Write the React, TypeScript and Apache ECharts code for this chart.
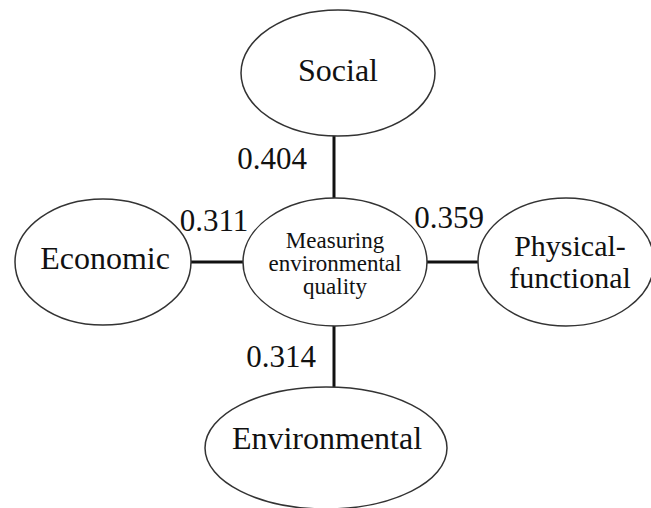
import React, { useEffect, useRef } from "react";
import * as echarts from "echarts";

// Data
const centerLabel = "Measuring\nenvironmental\nquality";
const dimensions = ["Social", "Economic", "Physical-\nfunctional", "Environmental"];
const weights = [0.404, 0.311, 0.359, 0.314];

// Layout (positions / sizes)
const centerNode = { cx: 335, cy: 262, rx: 92, ry: 64, fontSize: 23, lineHeight: 23 };
const outerNodes = [
  { cx: 338, cy: 73, rx: 97, ry: 63, fontSize: 32, lineHeight: 32, tx: 338, ty: 70 },
  { cx: 103, cy: 262, rx: 88, ry: 63, fontSize: 32, lineHeight: 32, tx: 105, ty: 258 },
  { cx: 566, cy: 262, rx: 88, ry: 64, fontSize: 30, lineHeight: 32, tx: 570, ty: 261 },
  { cx: 326, cy: 448, rx: 121, ry: 61, fontSize: 32, lineHeight: 32, tx: 327, ty: 438 },
];
const edges = [
  { x1: 334, y1: 262, x2: 334, y2: 73 },
  { x1: 335, y1: 262, x2: 103, y2: 262 },
  { x1: 335, y1: 262, x2: 566, y2: 262 },
  { x1: 334, y1: 262, x2: 334, y2: 448 },
];
const weightPos = [
  { x: 272, y: 158 },
  { x: 214, y: 220 },
  { x: 449, y: 217 },
  { x: 281, y: 356 },
];

const FONT = "'Liberation Serif', 'Times New Roman', 'DejaVu Serif', serif";

export default function App() {
  const ref = useRef<HTMLDivElement>(null);
  useEffect(() => {
    if (!ref.current) return;
    const chart = echarts.init(ref.current, null, { renderer: "svg" });
    const elements: any[] = [];
    edges.forEach((e) => {
      elements.push({
        type: "line",
        z: 1,
        shape: { x1: e.x1, y1: e.y1, x2: e.x2, y2: e.y2 },
        style: { stroke: "#111", lineWidth: 3 },
      });
    });
    const allNodes = [
      { ...centerNode, tx: centerNode.cx, ty: centerNode.cy + 1, label: centerLabel },
      ...outerNodes.map((n, i) => ({ ...n, label: dimensions[i] })),
    ];
    allNodes.forEach((n) => {
      elements.push({
        type: "ellipse",
        z: 2,
        shape: { cx: n.cx, cy: n.cy, rx: n.rx, ry: n.ry },
        style: { fill: "#fff", stroke: "#333", lineWidth: 1.5 },
      });
      elements.push({
        type: "text",
        z: 3,
        x: n.tx,
        y: n.ty,
        style: {
          text: n.label,
          fontSize: n.fontSize,
          fontFamily: FONT,
          lineHeight: n.lineHeight,
          fill: "#111",
          align: "center",
          verticalAlign: "middle",
        },
      });
    });
    weights.forEach((w, i) => {
      elements.push({
        type: "text",
        z: 3,
        x: weightPos[i].x,
        y: weightPos[i].y,
        style: {
          text: w.toFixed(3),
          fontSize: 31,
          fontFamily: FONT,
          fill: "#111",
          align: "center",
          verticalAlign: "middle",
        },
      });
    });
    chart.setOption({
      animation: false,
      backgroundColor: "#fff",
      graphic: { elements },
    });
    return () => chart.dispose();
  }, []);
  return (
    <div
      ref={ref}
      style={{ position: "fixed", left: 0, top: 0, width: 651, height: 508 }}
    />
  );
}
